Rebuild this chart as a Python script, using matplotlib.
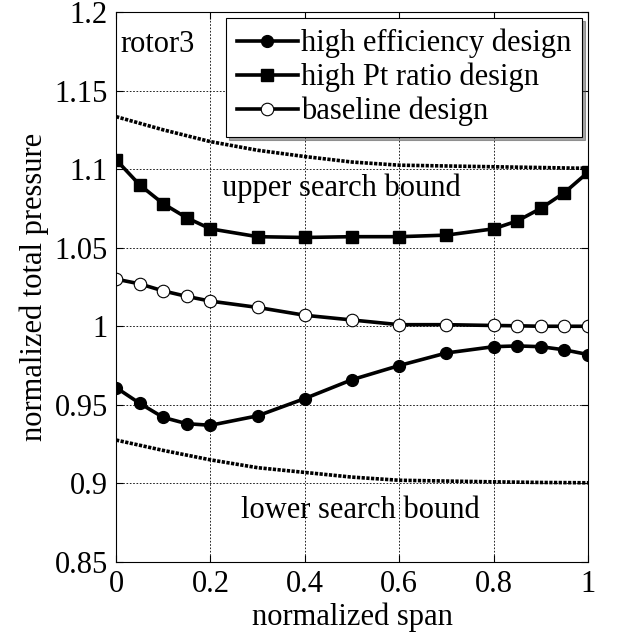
import numpy as np
import matplotlib.pyplot as plt

plt.rcParams['font.family'] = ['Liberation Serif', 'DejaVu Serif']

# span positions of the design curves
span = [0, 0.05, 0.1, 0.15, 0.2, 0.3, 0.4, 0.5, 0.6, 0.7, 0.8, 0.85, 0.9, 0.95, 1.0]
high_eff = [0.961, 0.951, 0.942, 0.938, 0.937, 0.943, 0.954, 0.966, 0.975, 0.983,
            0.987, 0.9875, 0.987, 0.985, 0.982]
high_pt = [1.106, 1.090, 1.078, 1.069, 1.062, 1.057, 1.0565, 1.057, 1.057, 1.058,
           1.062, 1.067, 1.075, 1.085, 1.098]
baseline = [1.030, 1.027, 1.0225, 1.019, 1.016, 1.012, 1.007, 1.004, 1.001, 1.001,
            1.0005, 1.0003, 1.0, 1.0, 1.0]

# search bounds
bound_span = [0, 0.1, 0.2, 0.3, 0.4, 0.5, 0.6, 0.7, 0.8, 0.9, 1.0]
upper = [1.1334, 1.125, 1.1175, 1.112, 1.108, 1.1045, 1.1025, 1.102, 1.1015, 1.101, 1.1005]
lower = [0.9276, 0.921, 0.915, 0.910, 0.907, 0.904, 0.902, 0.9015, 0.901, 0.9006, 0.9004]

fig = plt.figure(figsize=(6.25, 6.4), dpi=100)
ax = fig.add_axes([0.1856, 0.1219, 0.7552, 0.8594])

bnd = dict(color='black', lw=2.6, linestyle=(0, (0.9, 0.4)), dash_capstyle='butt')
ax.plot(bound_span, upper, **bnd)
ax.plot(bound_span, lower, **bnd)

ax.plot(span, high_eff, '-o', color='black', lw=2.6, ms=8.5, label='high efficiency design')
ax.plot(span, high_pt, '-s', color='black', lw=2.6, ms=9, label='high Pt ratio design')
ax.plot(span, baseline, '-o', color='black', lw=2.6, ms=9, mfc='white', mec='black',
        mew=0.8, label='baseline design')

ax.set_xlim(0, 1)
ax.set_ylim(0.85, 1.2)
ax.set_xticks([0, 0.2, 0.4, 0.6, 0.8, 1])
ax.set_xticklabels(['0', '0.2', '0.4', '0.6', '0.8', '1'])
ax.set_yticks([0.85, 0.9, 0.95, 1.0, 1.05, 1.1, 1.15, 1.2])
ax.set_yticklabels(['0.85', '0.9', '0.95', '1', '1.05', '1.1', '1.15', '1.2'])
ax.tick_params(direction='in', length=5, width=0.8, labelsize=22, top=True, right=True, pad=6)
ax.grid(True, color='black', linestyle=(0, (2, 2)), lw=0.6)
for s in ax.spines.values():
    s.set_linewidth(0.8)

ax.set_xlabel('normalized span', fontsize=22, labelpad=2)
ax.set_ylabel('normalized total pressure', fontsize=22, labelpad=4)

ax.text(0.01, 1.179, 'rotor3', fontsize=22, va='center', ha='left')
ax.text(0.477, 1.088, 'upper search bound', fontsize=22, va='center', ha='center')
ax.text(0.517, 0.883, 'lower search bound', fontsize=22, va='center', ha='center')

leg = ax.legend(loc='upper right', fontsize=22, fancybox=False, shadow=True, framealpha=1,
                edgecolor='black', handlelength=2.0, handletextpad=0.1, borderpad=0.35,
                labelspacing=0.15, borderaxespad=0.2)
leg.get_frame().set_linewidth(0.8)

fig.savefig('out.png', dpi=100)
